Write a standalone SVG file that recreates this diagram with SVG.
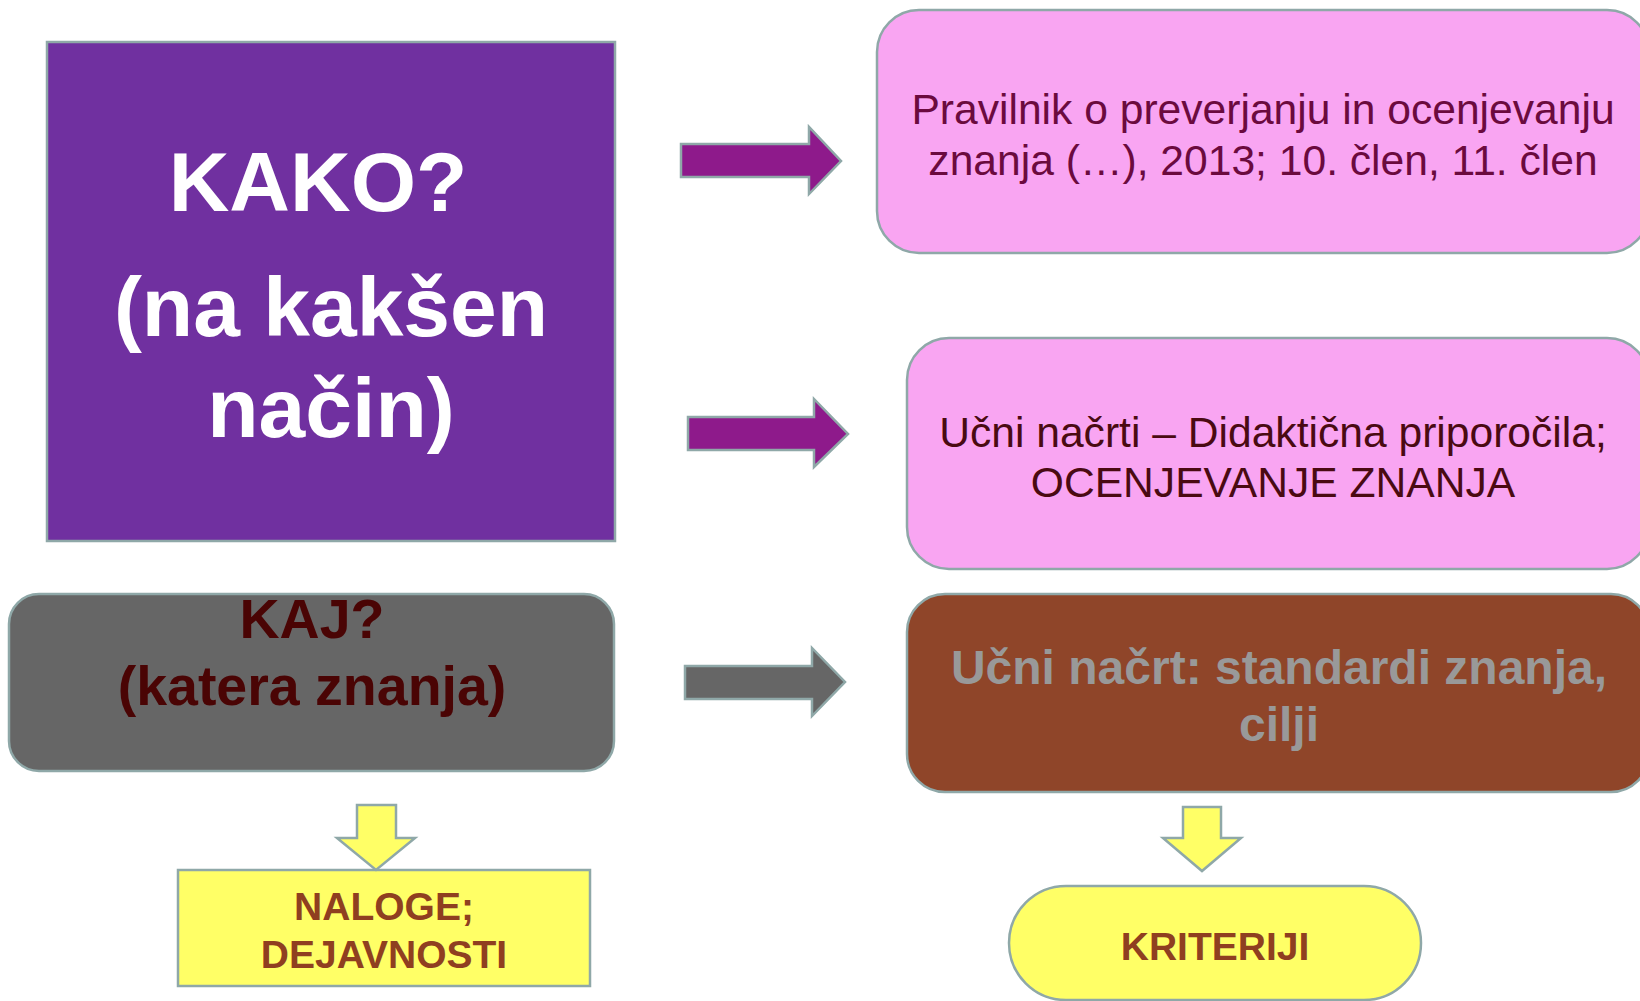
<svg xmlns="http://www.w3.org/2000/svg" width="1640" height="1001" viewBox="0 0 1640 1001">
<style>
.bx{stroke:#8FA8A8;stroke-width:2.5}
.t{font-family:"Liberation Sans",Arial,sans-serif;text-anchor:middle}
.b{font-weight:bold}
</style>
<rect width="1640" height="1001" fill="#FFFFFF"/>
<g id="kako">
<rect class="bx" x="47" y="42" width="568" height="499" fill="#7030A0"/>
<text class="t b" font-size="84" fill="#FFFFFF"><tspan x="318" y="211">KAKO?</tspan><tspan x="331" y="336">(na kakšen</tspan><tspan x="331" y="437">način)</tspan></text>
</g>
<g id="pravilnik">
<rect class="bx" x="877" y="10" width="772" height="243" rx="42" fill="#F9A5F2"/>
<text class="t" font-size="42.6" fill="#6B0A3E"><tspan x="1263" y="124">Pravilnik o preverjanju in ocenjevanju</tspan><tspan x="1263" y="175">znanja (…), 2013; 10. člen, 11. člen</tspan></text>
</g>
<g id="ucni-nacrti">
<rect class="bx" x="907" y="338" width="742" height="231" rx="42" fill="#F9A5F2"/>
<text class="t" font-size="42.6" fill="#4A0A12"><tspan x="1273" y="447">Učni načrti – Didaktična priporočila;</tspan><tspan x="1273" y="497">OCENJEVANJE ZNANJA</tspan></text>
</g>
<g id="kaj">
<rect class="bx" x="9" y="594" width="605" height="177" rx="30" fill="#666666"/>
<text class="t b" font-size="55.5" fill="#4A0404"><tspan x="312" y="638">KAJ?</tspan><tspan x="312" y="705">(katera znanja)</tspan></text>
</g>
<g id="standardi">
<rect class="bx" x="907" y="594" width="742" height="198" rx="38" fill="#8F4529"/>
<text class="t b" font-size="48" fill="#999999"><tspan x="1279" y="684">Učni načrt: standardi znanja,</tspan><tspan x="1279" y="741">cilji</tspan></text>
</g>
<g id="naloge">
<rect class="bx" x="178" y="870" width="412" height="116" fill="#FFFF66"/>
<text class="t b" font-size="39" fill="#8F3F20"><tspan x="384" y="920">NALOGE;</tspan><tspan x="384" y="968">DEJAVNOSTI</tspan></text>
</g>
<g id="kriteriji">
<rect class="bx" x="1009" y="886" width="412" height="114" rx="57" fill="#FFFF66"/>
<text class="t b" font-size="39" fill="#8F3F20" x="1215" y="960">KRITERIJI</text>
</g>
<g id="connectors" class="bx">
<path d="M681 144 H809 V127 L841 161 L809 194 V177 H681 Z" fill="#8E1A8B"/>
<path d="M688 417 H814 V399 L848 434 L814 467 V450 H688 Z" fill="#8E1A8B"/>
<path d="M685 666 H812 V648 L845 682 L812 716 V699 H685 Z" fill="#666666"/>
<path d="M357 805 H396 V838 H415 L376 870 L337 838 H357 Z" fill="#FFFF66"/>
<path d="M1183 807 H1221 V838 H1241 L1202 871 L1163 838 H1183 Z" fill="#FFFF66"/>
</g>
</svg>
